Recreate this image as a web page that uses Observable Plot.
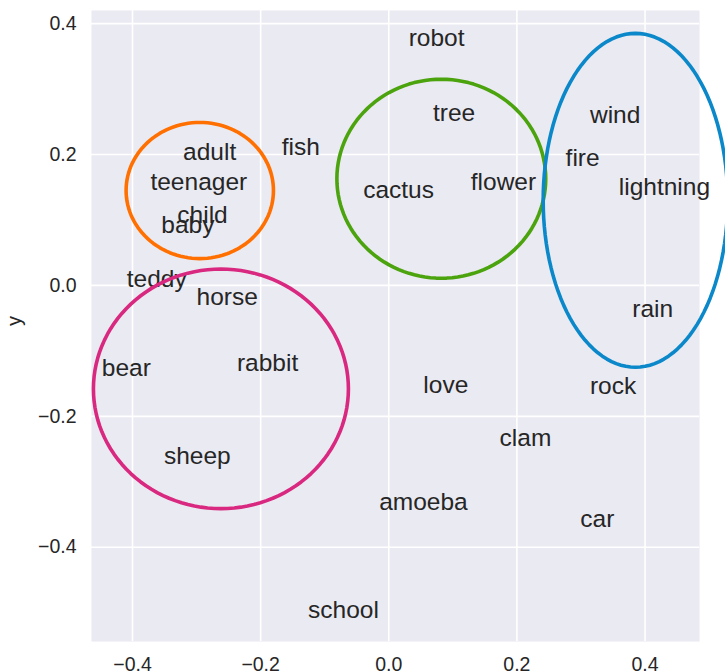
<!DOCTYPE html>
<html>
<head>
<meta charset="utf-8">
<script src="https://cdn.jsdelivr.net/npm/d3@7"></script>
<script src="https://cdn.jsdelivr.net/npm/@observablehq/plot@0.6"></script>
<style>
  html, body { margin: 0; padding: 0; background: #fff; }
  #chart svg { display: block; }
</style>
</head>
<body>
<div id="chart"></div>
<script>
// Word positions (left edge of word, baseline)
const words = ["adult","teenager","child","baby","teddy","horse","bear","rabbit","sheep",
  "robot","tree","fish","cactus","flower","wind","fire","lightning","rain","rock",
  "love","clam","amoeba","car","school"];
const wordX = [-0.321,-0.372,-0.330,-0.355,-0.409,-0.300,-0.448,-0.237,-0.351,
  0.031,0.069,-0.167,-0.040,0.128,0.314,0.276,0.359,0.380,0.314,
  0.054,0.173,-0.015,0.299,-0.126];
const wordY = [0.191,0.146,0.095,0.080,-0.002,-0.030,-0.139,-0.130,-0.273,
  0.366,0.251,0.199,0.133,0.146,0.248,0.182,0.138,-0.049,-0.166,
  -0.165,-0.245,-0.343,-0.369,-0.508];

// Cluster ellipses: center and radii in data units
const clusterNames = ["people","animals","plants","weather"];
const clusterCX = [-0.295,-0.262,0.082,0.385];
const clusterCY = [0.145,-0.158,0.163,0.130];
const clusterRX = [0.115,0.199,0.163,0.144];
const clusterRY = [0.104,0.183,0.152,0.255];
const clusterColors = ["#ff7000","#d9287f","#4ba30d","#0a88c9"];

const xTicks = [-0.4,-0.2,0.0,0.2,0.4];
const yTicks = [-0.4,-0.2,0.0,0.2,0.4];

const wordData = words.map((w, i) => ({word: w, x: wordX[i], y: wordY[i]}));

// ellipse outlines (shape geometry from center/radii)
const ellipsePts = [];
clusterNames.forEach((name, k) => {
  const n = 120;
  for (let j = 0; j < n; j++) {
    const t = (j / n) * 2 * Math.PI;
    ellipsePts.push({
      cluster: name,
      x: clusterCX[k] + clusterRX[k] * Math.cos(t),
      y: clusterCY[k] + clusterRY[k] * Math.sin(t)
    });
  }
});

const font = "'Liberation Sans', Arial, Helvetica, sans-serif";
const labelSize = 24.5;

const chart = Plot.plot({
  width: 725,
  height: 672,
  marginLeft: 91,
  marginRight: 26,
  marginTop: 10,
  marginBottom: 31,
  style: {fontFamily: font, color: "#262626", background: "#fff"},
  x: {domain: [-0.464, 0.485], ticks: xTicks, tickFormat: d3.format(".1f")},
  y: {domain: [-0.544, 0.420], ticks: yTicks, tickFormat: d3.format(".1f")},
  color: {domain: clusterNames, range: clusterColors},
  marks: [
    Plot.frame({fill: "#eaeaf2", stroke: "none"}),
    Plot.gridX(xTicks, {stroke: "#fff", strokeOpacity: 1, strokeWidth: 1.6}),
    Plot.gridY(yTicks, {stroke: "#fff", strokeOpacity: 1, strokeWidth: 1.6}),
    Plot.axisX(xTicks, {tickSize: 0, tickPadding: 16, fontSize: 19.5, tickFormat: d3.format(".1f"), label: null, fill: "#262626"}),
    Plot.axisY(yTicks, {tickSize: 0, tickPadding: 15, fontSize: 19.5, tickFormat: d3.format(".1f"), label: null, fill: "#262626"}),
    Plot.text(["y"], {frameAnchor: "left", text: d => d, rotate: -90, dx: -77, fontSize: 20, fill: "#262626"}),
    Plot.text(wordData, {
      x: "x", y: "y", text: "word",
      textAnchor: "start", lineAnchor: "middle",
      dy: -0.32 * labelSize,
      fontSize: labelSize, fill: "#262626"
    }),
    Plot.line(ellipsePts, {
      x: "x", y: "y", z: "cluster", stroke: "cluster",
      curve: "linear-closed", strokeWidth: 3.6
    })
  ]
});

document.getElementById("chart").appendChild(chart);
</script>
</body>
</html>
